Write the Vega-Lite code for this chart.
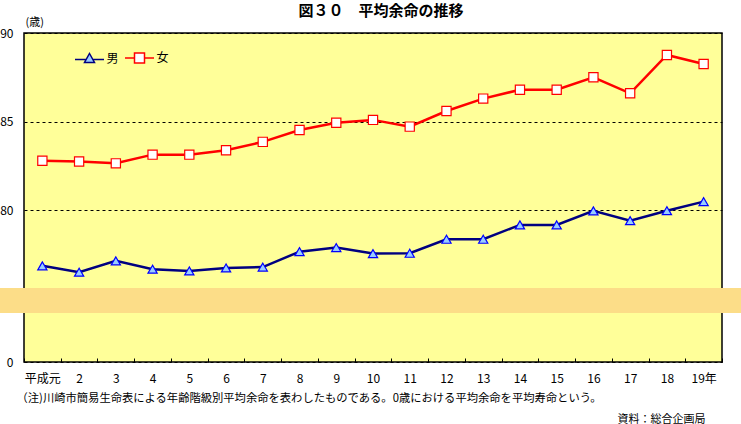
{
  "$schema": "https://vega.github.io/schema/vega-lite/v6.json",
  "width": 698,
  "height": 329,
  "autosize": {"type": "none"},
  "padding": {"left": 24, "top": 33, "right": 19, "bottom": 62},
  "background": "white",
  "config": {
    "font": "Noto Sans CJK JP",
    "view": {"fill": "#FFFF99", "stroke": "black", "strokeWidth": 1.5}
  },
  "title": {
    "text": "図３０　平均余命の推移",
    "fontSize": 15,
    "fontWeight": "bold",
    "color": "black",
    "anchor": "middle",
    "dx": 8,
    "offset": -18,
    "baseline": "bottom"
  },
  "datasets": {
    "band": [{"lo": 58.3, "hi": 75.62}],
    "life": [
      {"year": "平成元", "sex": "男", "value": 76.87},
      {"year": "2", "sex": "男", "value": 76.51},
      {"year": "3", "sex": "男", "value": 77.15},
      {"year": "4", "sex": "男", "value": 76.68},
      {"year": "5", "sex": "男", "value": 76.58},
      {"year": "6", "sex": "男", "value": 76.75},
      {"year": "7", "sex": "男", "value": 76.8},
      {"year": "8", "sex": "男", "value": 77.67},
      {"year": "9", "sex": "男", "value": 77.9},
      {"year": "10", "sex": "男", "value": 77.56},
      {"year": "11", "sex": "男", "value": 77.58},
      {"year": "12", "sex": "男", "value": 78.37},
      {"year": "13", "sex": "男", "value": 78.37},
      {"year": "14", "sex": "男", "value": 79.18},
      {"year": "15", "sex": "男", "value": 79.18},
      {"year": "16", "sex": "男", "value": 79.97},
      {"year": "17", "sex": "男", "value": 79.42},
      {"year": "18", "sex": "男", "value": 79.98},
      {"year": "19年", "sex": "男", "value": 80.49},
      {"year": "平成元", "sex": "女", "value": 82.8},
      {"year": "2", "sex": "女", "value": 82.75},
      {"year": "3", "sex": "女", "value": 82.65},
      {"year": "4", "sex": "女", "value": 83.14},
      {"year": "5", "sex": "女", "value": 83.14},
      {"year": "6", "sex": "女", "value": 83.39},
      {"year": "7", "sex": "女", "value": 83.86},
      {"year": "8", "sex": "女", "value": 84.53},
      {"year": "9", "sex": "女", "value": 84.94},
      {"year": "10", "sex": "女", "value": 85.1},
      {"year": "11", "sex": "女", "value": 84.72},
      {"year": "12", "sex": "女", "value": 85.6},
      {"year": "13", "sex": "女", "value": 86.3},
      {"year": "14", "sex": "女", "value": 86.8},
      {"year": "15", "sex": "女", "value": 86.8},
      {"year": "16", "sex": "女", "value": 87.5},
      {"year": "17", "sex": "女", "value": 86.6},
      {"year": "18", "sex": "女", "value": 88.76},
      {"year": "19年", "sex": "女", "value": 88.25}
    ]
  },
  "resolve": {"scale": {"y": "independent"}},
  "layer": [
    {
      "data": {"name": "band"},
      "mark": {"type": "rect", "color": "#FCDD88", "xOffset": -24, "x2Offset": 19},
      "encoding": {
        "x": {"value": 0},
        "x2": {"value": "width"},
        "y": {
          "field": "hi", "type": "quantitative",
          "scale": {"domain": [0, 75, 90], "range": [329, 266, 0], "nice": false, "zero": false},
          "axis": {
            "orient": "right", "labels": false, "ticks": false, "domain": false, "grid": false,
            "title": "資料：総合企画局", "titleAngle": 0, "titleAlign": "right", "titleBaseline": "middle",
            "titleX": -17, "titleY": 386, "titleFontSize": 11, "titleFontWeight": "normal", "titleColor": "black"
          }
        },
        "y2": {"field": "lo"}
      }
    },
    {
      "data": {"name": "life"},
      "mark": {"type": "line", "strokeWidth": 2.5},
      "encoding": {
        "x": {
          "field": "year", "type": "nominal", "sort": null,
          "scale": {"type": "band", "paddingInner": 0, "paddingOuter": 0},
          "axis": {
            "labelAngle": 0, "labelFontSize": 12, "labelColor": "black", "labelPadding": 15,
            "tickBand": "extent", "tickSize": -4, "tickColor": "black", "tickWidth": 1, "domain": false, "grid": false,
            "title": "（注)川崎市簡易生命表による年齢階級別平均余命を表わしたものである。0歳における平均余命を平均寿命という。",
            "titleAlign": "left", "titleAnchor": "start", "titleBaseline": "middle", "titleX": -8, "titleY": 36,
            "titleFontSize": 11.3, "titleFontWeight": "normal", "titleColor": "black"
          }
        },
        "y": {
          "field": "value", "type": "quantitative",
          "scale": {"domain": [0, 75, 90], "range": [329, 266, 0], "nice": false, "zero": false},
          "axis": {
            "values": [0, 80, 85, 90], "grid": true, "gridDash": [3, 3], "gridColor": "black", "gridWidth": 1, "gridOpacity": 1,
            "domain": false, "ticks": false, "labelPadding": 11, "labelFontSize": 12, "labelColor": "black",
            "title": "(歳)", "titleAngle": 0, "titleAlign": "left", "titleBaseline": "middle",
            "titleX": 1, "titleY": -11, "titleFontSize": 11, "titleFontWeight": "normal", "titleColor": "black"
          }
        },
        "color": {
          "field": "sex", "type": "nominal",
          "scale": {"domain": ["男", "女"], "range": ["#000080", "#FF0000"]},
          "legend": {
            "orient": "none", "legendX": 59.5, "legendY": 19, "direction": "horizontal", "title": null,
            "padding": 0, "labelFontSize": 12, "labelColor": "black", "labelOffset": 11, "columnPadding": 2,
            "symbolSize": 100,
            "encode": {
              "symbols": {
                "update": {
                  "shape": {"signal": "datum.value === '男' ? 'M-2.9,0.2L-0.67,0.2M0.67,0.2L2.9,0.2M0,-1L1,0.8L-1,0.8Z' : 'M-2.9,0L-1,0M1,0L2.9,0M-1,-1L1,-1L1,1L-1,1Z'"},
                  "fill": {"signal": "datum.value === '男' ? '#99CCFF' : '#FFFFFF'"},
                  "stroke": {"signal": "datum.value === '男' ? '#000080' : '#FF0000'"},
                  "strokeWidth": {"value": 1.5},
                  "size": {"value": 100},
                  "opacity": {"value": 1},
                  "fillOpacity": {"value": 1}
                }
              }
            }
          }
        }
      }
    },
    {
      "data": {"name": "life"},
      "transform": [{"filter": "datum.sex === '男'"}],
      "mark": {"type": "point", "shape": "triangle-up", "filled": true, "fill": "#99CCFF", "stroke": "#0000FF", "strokeWidth": 1.2, "opacity": 1, "size": 85},
      "encoding": {
        "x": {
          "field": "year", "type": "nominal", "sort": null,
          "scale": {"type": "band", "paddingInner": 0, "paddingOuter": 0}
        },
        "y": {
          "field": "value", "type": "quantitative",
          "scale": {"domain": [0, 75, 90], "range": [329, 266, 0], "nice": false, "zero": false},
          "axis": null
        }
      }
    },
    {
      "data": {"name": "life"},
      "transform": [{"filter": "datum.sex === '女'"}],
      "mark": {"type": "point", "shape": "square", "filled": true, "fill": "#FFFFFF", "stroke": "#FF0000", "strokeWidth": 1.2, "opacity": 1, "size": 85},
      "encoding": {
        "x": {
          "field": "year", "type": "nominal", "sort": null,
          "scale": {"type": "band", "paddingInner": 0, "paddingOuter": 0}
        },
        "y": {
          "field": "value", "type": "quantitative",
          "scale": {"domain": [0, 75, 90], "range": [329, 266, 0], "nice": false, "zero": false},
          "axis": null
        }
      }
    }
  ]
}
